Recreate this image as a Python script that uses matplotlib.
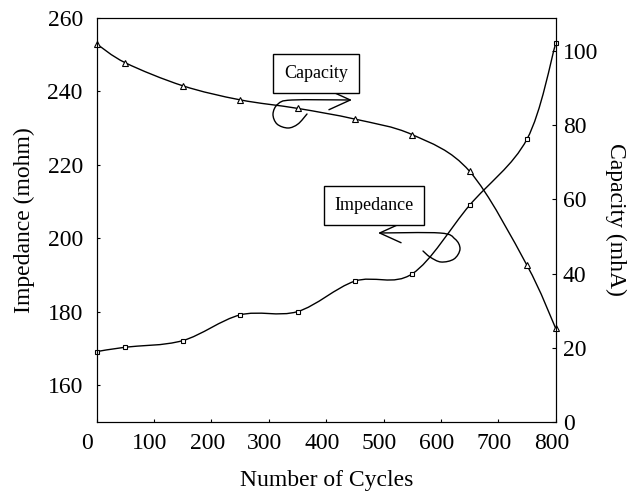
import numpy as np
import matplotlib.pyplot as plt
import matplotlib.transforms as mtransforms
from matplotlib.path import Path
from matplotlib.patches import PathPatch, FancyArrowPatch

plt.rcParams['font.family'] = ['Liberation Serif', 'DejaVu Serif']

cycles = [0, 50, 150, 250, 350, 450, 550, 650, 750, 800]
impedance = [169.1, 170.3, 172.1, 179.1, 180.0, 188.3, 190.3, 209.0, 227.0, 253.1]
capacity = [102.0, 96.9, 90.7, 86.9, 84.6, 81.7, 77.5, 67.6, 42.2, 25.2]


def smooth_path(xs, ys):
    # catmull-rom turned into cubic bezier segments
    p = np.column_stack([xs, ys]).astype(float)
    n = len(p)
    verts = [p[0]]
    codes = [Path.MOVETO]
    for i in range(n - 1):
        p0 = p[i - 1] if i > 0 else p[i]
        p3 = p[i + 2] if i + 2 < n else p[i + 1]
        c1 = p[i] + (p[i + 1] - p0) / 6
        c2 = p[i + 1] - (p3 - p[i]) / 6
        verts += [c1, c2, p[i + 1]]
        codes += [Path.CURVE4] * 3
    return Path(verts, codes)


W, H = 628, 492
fig = plt.figure(figsize=(W / 100, H / 100), dpi=100)
ax = fig.add_axes([96.7 / W, 1 - 421.7 / H, 459 / W, 403.7 / H])
ax2 = ax.twinx()

ax.set_xlim(0, 800)
ax.set_ylim(150, 260)
ax2.set_ylim(0, 109)

ax.add_patch(PathPatch(smooth_path(cycles, impedance), fill=False, lw=1, color='black'))
ax.plot(cycles, impedance, ls='none', marker='s', ms=3.5, mfc='white', mec='black', mew=0.8, clip_on=False)
ax2.add_patch(PathPatch(smooth_path(cycles, capacity), fill=False, lw=1, color='black'))
ax2.plot(cycles, capacity, ls='none', marker='^', ms=3.8, mfc='white', mec='black', mew=0.8, clip_on=False)

ax.set_xticks(range(0, 801, 100))
ax.set_yticks(range(160, 261, 20))
ax2.set_yticks(range(0, 101, 20))
ax.tick_params(direction='in', labelsize=17, length=2.5)
ax.tick_params(axis='x', pad=8)
ax.tick_params(axis='y', pad=10)
ax2.tick_params(direction='in', labelsize=17, length=3, pad=5)
ax.set_xlabel('Number of Cycles', fontsize=17, labelpad=12)
ax.set_ylabel('Impedance (mohm)', fontsize=17, labelpad=9)
ax2.set_ylabel('Capacity (mhA)', fontsize=17, rotation=270, labelpad=20)

# x labels sit a little left of their ticks, the first one more so
for i, lab in enumerate(ax.get_xticklabels()):
    dx = -10 if i == 0 else -4
    lab.set_transform(lab.get_transform() + mtransforms.ScaledTranslation(dx / 100, 0, fig.dpi_scale_trans))


def px(x, y):
    return x / W, 1 - y / H


# label boxes
box = dict(boxstyle='square,pad=0.6', fc='white', ec='black', lw=1)
fig.text(*px(316, 73.5), 'Capacity', fontsize=13, ha='center', va='center', bbox=box)
fig.text(*px(374, 205.5), 'Impedance', fontsize=13, ha='center', va='center', bbox=box)

# curly arrows
cap_arrow_x = [307, 298, 288, 277, 273, 278, 292, 352]
cap_arrow_y = [114, 124, 128, 124, 114, 104, 100, 100]
imp_arrow_x = [423, 430, 441, 454, 460, 455, 440, 378]
imp_arrow_y = [251, 257, 262, 259, 249, 239, 233, 233]
for xs, ys in [(cap_arrow_x, cap_arrow_y), (imp_arrow_x, imp_arrow_y)]:
    pts = [px(x, y) for x, y in zip(xs, ys)]
    path = smooth_path([q[0] for q in pts], [q[1] for q in pts])
    fig.patches.append(FancyArrowPatch(path=path, arrowstyle='->,head_length=1.1,head_width=0.5',
                                       mutation_scale=14, lw=1, color='black',
                                       transform=fig.transFigure))

fig.savefig('out.png', dpi=100)
